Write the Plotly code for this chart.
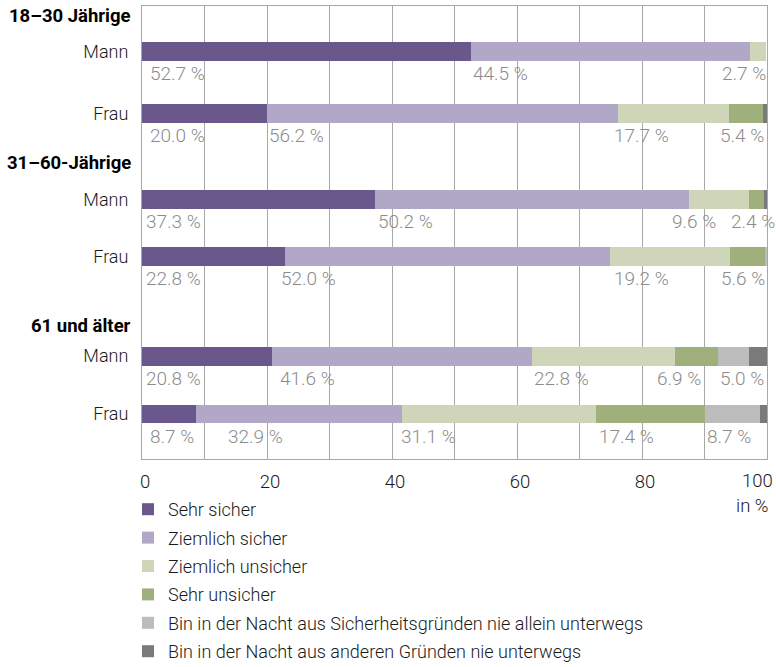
import plotly.graph_objects as go

# --- data -------------------------------------------------------------
groups = ["18–30 Jährige", "31–60-Jährige", "61 und älter"]
sexes = ["Mann", "Frau"]

categories = [
    "Sehr sicher",
    "Ziemlich sicher",
    "Ziemlich unsicher",
    "Sehr unsicher",
    "Bin in der Nacht aus Sicherheitsgründen nie allein unterwegs",
    "Bin in der Nacht aus anderen Gründen nie unterwegs",
]

# shares in %, one list per answer category, rows in order:
# 18–30 Mann, 18–30 Frau, 31–60 Mann, 31–60 Frau, 61+ Mann, 61+ Frau
sehr_sicher = [52.7, 20.0, 37.3, 22.8, 20.8, 8.7]
ziemlich_sicher = [44.5, 56.2, 50.2, 52.0, 41.6, 32.9]
ziemlich_unsicher = [2.7, 17.7, 9.6, 19.2, 22.8, 31.1]
sehr_unsicher = [0.0, 5.4, 2.4, 5.6, 6.9, 17.4]
nie_allein = [0.0, 0.0, 0.0, 0.4, 5.0, 8.7]
nie_unterwegs = [0.0, 0.7, 0.5, 0.0, 2.9, 1.2]

x_ticks = [0, 20, 40, 60, 80, 100]

# --- styling ----------------------------------------------------------
colors = ["#6a578c", "#b1a7c7", "#cfd5b8", "#9fb07d", "#bbbcbb", "#7a7a7a"]
FONT = "Roboto"
TEXT = "#1a1a1a"
LABEL = "#8c8c8c"
GRID = "#a8a8a8"

# vertical layout of rows (axis units, reversed axis 0..10)
bar_pos = [1.005, 2.377, 4.268, 5.525, 7.73, 9.008]
header_pos = [0.227, 3.474, 7.061]
bar_width = 0.412

# pixel nudges of the value labels (left edge relative to segment start)
label_nudge = [
    [6, 0, -30],
    [6, 0, -6, -11],
    [2, 1, -19, -20],
    [2, -6, 2, -11],
    [2, 6, 0, -20, 0],
    [6, 30, -3, 1, 0],
]

series = [sehr_sicher, ziemlich_sicher, ziemlich_unsicher,
          sehr_unsicher, nie_allein, nie_unterwegs]
row_names = [s for _ in groups for s in sexes]

fig = go.Figure()
for i, (name, vals) in enumerate(zip(categories, series)):
    fig.add_trace(go.Bar(
        y=bar_pos, x=vals, name=name, orientation="h",
        width=bar_width, marker=dict(color=colors[i], line=dict(width=0)),
        legendgroup=name,
    ))

# value labels under each bar (first five categories, >= 1 %)
annotations = []
for r in range(len(bar_pos)):
    start = 0.0
    k = 0
    for c, vals in enumerate(series):
        v = vals[r]
        if c < 5 and v >= 1:
            annotations.append(dict(
                x=start, y=bar_pos[r], xref="x", yref="y",
                text=f"{v:.1f} %", showarrow=False,
                xanchor="left", yanchor="middle",
                xshift=label_nudge[r][k], yshift=-22,
                font=dict(family=FONT, size=19, color=LABEL, weight=300),
            ))
            k += 1
        start += v

# group headers
for g, yp in zip(groups, header_pos):
    annotations.append(dict(
        x=0, y=yp, xref="paper", yref="y", text=g, showarrow=False,
        xanchor="right", yanchor="middle", xshift=-9,
        font=dict(family=FONT, size=18.5, color="#000000", weight=700),
    ))

# last x tick label kept inside the page
annotations.append(dict(
    x=x_ticks[-1], y=0, xref="x", yref="paper", text=str(x_ticks[-1]),
    showarrow=False, xanchor="center", yanchor="middle",
    xshift=-10, yshift=-22,
    font=dict(family=FONT, size=18.5, color=TEXT, weight=300),
))
annotations.append(dict(
    x=1, y=0, xref="paper", yref="paper", text="in %", showarrow=False,
    xanchor="right", yanchor="middle", xshift=4, yshift=-47,
    font=dict(family=FONT, size=18.5, color=TEXT, weight=300),
))

fig.update_layout(
    width=776, height=667,
    margin=dict(l=142, r=9, t=6, b=208, autoexpand=False),
    paper_bgcolor="white", plot_bgcolor="white",
    barmode="stack", bargap=0,
    font=dict(family=FONT, size=18, color=TEXT, weight=300),
    annotations=annotations,
    showlegend=True,
    legend=dict(
        xref="container", yref="container",
        x=128 / 776, y=1 - 491 / 667, xanchor="left", yanchor="top",
        orientation="v", traceorder="grouped", tracegroupgap=2,
        font=dict(family=FONT, size=18, color=TEXT, weight=300),
        bgcolor="rgba(0,0,0,0)",
    ),
    xaxis=dict(
        range=[0, 100], tickvals=list(range(0, 101, 10)),
        ticktext=[str(t) if (t in x_ticks and t != x_ticks[-1]) else ""
                  for t in range(0, 101, 10)],
        showgrid=True, gridcolor=GRID, gridwidth=1,
        showline=True, mirror=True, linecolor=GRID, linewidth=1,
        ticks="", zeroline=False, ticklabelshift=3, ticklabelstandoff=6,
        tickfont=dict(family=FONT, size=18.5, color=TEXT, weight=300),
        fixedrange=True,
    ),
    yaxis=dict(
        range=[10, 0], tickvals=bar_pos, ticktext=row_names,
        showgrid=False, showline=True, mirror=True, linecolor=GRID,
        linewidth=1, ticks="", zeroline=False, ticklabelstandoff=9,
        tickfont=dict(family=FONT, size=18, color=TEXT, weight=300),
        fixedrange=True,
    ),
)

fig.write_html("out.html")
